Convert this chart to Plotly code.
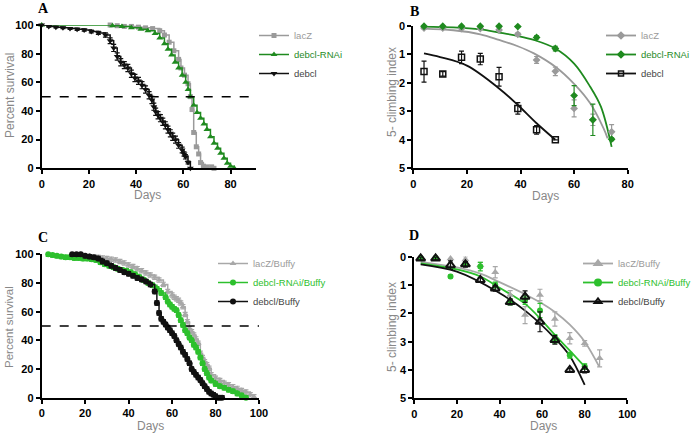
import plotly.graph_objects as go

W, H = 696, 434
def px_x(p): return p / W
def px_y(p): return 1 - p / H

GRAY = "#9a9a9a"
GREEN_A = "#1f8a1f"
GREEN_C = "#2dc02d"
BLACK = "#111111"

# ---------------- Panel A: survival ----------------
a_lacz_days = [29, 32, 35, 38, 41, 44, 47, 50, 52, 54, 56, 58, 59, 60.5, 62, 63, 63.7, 64.4, 65.5, 66.5, 67.3, 68.5, 70, 72, 73]
a_lacz_surv = [100, 99.5, 99, 99, 98.5, 98, 97.5, 96, 93, 88, 82, 76, 70, 65, 59, 50, 41, 25, 15, 10, 4, 1.5, 1, 1, 0]

a_rnai_days = [0, 30, 34, 38, 42, 45, 48, 50, 52, 53.5, 55, 56.5, 58, 59.5, 61, 62, 63, 64.4, 65.8, 67.3, 68.7, 70, 71.5, 73, 74.5, 75.8, 77.2, 78.6, 80, 81.6]
a_rnai_surv = [100, 99.5, 99, 98, 97, 96, 94, 91, 87, 83, 79, 74, 70, 65, 60, 55, 50, 44, 39, 35, 31, 27, 22, 17.5, 14, 10.5, 7, 3.5, 1.5, 0]

a_debcl_days = [0, 3, 6, 9, 12, 15, 18, 21, 24, 27, 29, 30.5, 32, 33.5, 35, 36.5, 38, 39.5, 41, 42.5, 44, 45.5, 46.7, 47.5, 48.3, 49.3, 50.3, 51.3, 52.4, 53.5, 54.5, 55.5, 56.7, 58, 59.5, 60.3, 60.9, 62, 63]
a_debcl_surv = [100, 99, 98.5, 98, 97.5, 97, 96.5, 95.5, 94.5, 93, 89, 84, 78, 74, 72, 70, 66, 63, 61, 58, 55, 51, 47.7, 43, 39.5, 37, 35, 32.5, 30, 27, 24.4, 22, 20, 16, 12.8, 10, 8, 4, 0]
a_debcl_err = [0, 0.5, 0.5, 0.5, 0.5, 0.8, 0.8, 1, 1, 1.5, 2, 2.5, 2.5, 2.5, 2.5, 2.5, 2.5, 2.5, 2.5, 2.5, 2.5, 2.5, 2.5, 2.5, 2.5, 2.5, 2.5, 2.5, 2.5, 2.5, 2.5, 2.5, 2.5, 2, 2, 1.5, 1.5, 1, 0]
median_line = 50

# ---------------- Panel B: climbing ----------------
b_days = [4, 11, 18, 25, 32, 39, 46, 53, 60, 67, 74]
b_lacz = [0.08, 0.08, 0.1, 0.1, 0.15, 0.3, 1.2, 1.6, 2.9, 3.3, 3.72]
b_lacz_err = [0.03, 0.03, 0.03, 0.03, 0.03, 0.05, 0.12, 0.15, 0.3, 0.2, 0.25]
b_rnai = [0.02, 0.02, 0.02, 0.02, 0.02, 0.03, 0.41, 0.8, 2.45, 3.3, 3.98]
b_rnai_err = [0.02, 0.02, 0.02, 0.02, 0.02, 0.02, 0.05, 0.08, 0.35, 0.55, 0.05]
b_debcl_days = [4, 11, 18, 25, 32, 39, 46, 53]
b_debcl = [1.61, 1.69, 1.11, 1.17, 1.79, 2.9, 3.65, 4.0]
b_debcl_err = [0.37, 0.08, 0.22, 0.2, 0.33, 0.2, 0.15, 0.0]

b_fit_lacz_days = [4, 15, 25, 32, 39, 45, 53, 60, 66, 71, 72.5]
b_fit_lacz = [0.1, 0.16, 0.3, 0.5, 0.72, 0.97, 1.44, 2.04, 2.72, 3.6, 3.95]
b_fit_rnai_days = [4, 15, 25, 32, 39, 45, 53, 60, 66, 70, 74]
b_fit_rnai = [0.03, 0.06, 0.13, 0.24, 0.36, 0.5, 0.8, 1.33, 2.14, 2.84, 4.25]
b_fit_debcl_days = [4, 10, 20, 32, 39, 46, 53]
b_fit_debcl = [0.97, 1.1, 1.4, 2.2, 2.78, 3.42, 4.0]

# ---------------- Panel C: survival with Buffy ----------------
c_lacz_days = [18, 22, 26, 28, 30, 32, 34, 36, 38, 40, 42, 44, 46, 48, 50, 52, 54, 56, 58, 60, 61, 62, 63, 64, 65, 66, 67, 68, 69, 70, 71, 72, 73, 74, 75, 76, 77, 78, 80, 82, 84, 86, 88, 90, 92, 94, 96, 97.7]
c_lacz_surv = [100, 99, 98, 97.5, 97, 96.5, 96, 95, 94, 92.6, 91.5, 90, 88.5, 87, 85.6, 84, 82, 79, 74, 71.6, 70, 69, 68, 66, 63.5, 58, 53, 48, 46, 43.7, 41, 38, 31, 28, 25, 23, 20.5, 16, 13.5, 12, 10, 9, 7.7, 6.5, 5, 4, 2, 0.7]

c_rnai_days = [3, 5, 7, 9, 11, 13, 15, 17, 19, 21, 23, 25, 27, 29, 31, 33, 35, 37, 39, 41, 43, 45, 47, 49, 51, 53, 55, 57, 58, 59, 60, 61, 62, 63, 64, 65, 66, 67, 68, 69, 70, 71, 72, 73, 74, 75, 76, 77, 78, 80, 82, 84, 86, 88, 90, 92, 94]
c_rnai_surv = [100, 99.5, 99, 98.5, 98, 98, 97.5, 97.5, 97, 97, 96.5, 96, 94.5, 93, 92, 91, 90, 89, 88.5, 87.5, 86, 84, 82, 80, 78.5, 76, 73, 70, 67, 65, 63.5, 62, 61, 57.7, 54, 50.7, 47, 45, 42, 40, 37, 35, 32, 28, 24, 20, 17, 14, 12, 9.5, 8, 7, 5.5, 4.5, 3, 1.5, 0]

c_debcl_days = [14, 16, 18, 20, 22, 24, 26, 28, 30, 32, 34, 36, 38, 40, 42, 44, 46, 48, 50, 52, 53, 54, 55, 56, 57, 58, 59, 60, 61, 62, 63, 64, 65, 66, 67, 68, 69, 70, 71, 72, 73, 74, 75, 76, 77, 78, 79, 80, 81, 82, 83]
c_debcl_surv = [100, 100, 100, 99, 98.5, 98, 97, 95, 93.7, 92, 90.5, 89, 87.5, 86.5, 85, 83.5, 82.5, 81, 79, 74, 66, 59, 55, 53, 51, 49, 47, 45, 43, 40, 37.5, 35, 32, 30, 27, 24, 20, 18, 16, 14, 12.3, 10, 8, 6, 4.2, 3, 2, 1, 0, 0, 0]

# ---------------- Panel D: climbing with Buffy ----------------
d_days = [3, 10, 17, 24, 31, 38, 45, 52, 59, 66, 73, 80, 87]
d_lacz = [0.05, 0.05, 0.06, 0.1, 0.3, 0.55, 1.35, 2.06, 1.35, 2.2, 2.88, 3.06, 3.59]
d_lacz_err = [0.05, 0.05, 0.15, 0.1, 0.1, 0.2, 0.15, 0.3, 0.2, 0.25, 0.2, 0.1, 0.3]
d_rnai_days = [3, 10, 17, 24, 31, 38, 45, 52, 59, 66, 73, 80]
d_rnai = [0.05, 0.05, 0.7, 0.27, 0.35, 1.0, 1.6, 1.53, 1.9, 2.9, 3.48, 3.88]
d_rnai_err = [0.03, 0.03, 0.05, 0.05, 0.15, 0.1, 0.1, 0.15, 0.25, 0.15, 0.1, 0.1]
d_debcl_days = [3, 10, 17, 24, 31, 38, 45, 52, 59, 66, 73, 80]
d_debcl = [0.06, 0.06, 0.3, 0.27, 0.82, 1.12, 1.6, 1.41, 2.3, 2.94, 4.0, 4.0]
d_debcl_err = [0.05, 0.05, 0.15, 0.1, 0.08, 0.1, 0.1, 0.2, 0.35, 0.15, 0.05, 0.1]

d_fit_lacz_days = [3, 20, 31, 40, 52.6, 60, 66, 73, 80, 86.8]
d_fit_lacz = [0.18, 0.38, 0.6, 0.9, 1.35, 1.65, 1.95, 2.4, 3.0, 3.88]
d_fit_rnai_days = [3, 20, 31, 40, 52.6, 66, 72.8, 80]
d_fit_rnai = [0.24, 0.45, 0.7, 1.1, 1.7, 2.76, 3.3, 3.88]
d_fit_debcl_days = [3, 20, 39, 52.6, 66, 72.8, 80]
d_fit_debcl = [0.27, 0.53, 1.24, 1.94, 2.88, 3.48, 4.53]

FONT = "Liberation Sans, Arial, sans-serif"

def lname(text, color):
    return f"<span style='color:{color}'>{text}</span>"

fig = go.Figure()

def err(arr, color):
    return dict(type="data", array=arr, visible=True, thickness=1.2, width=2.5, color=color)

# Panel A traces
fig.add_trace(go.Scatter(x=a_lacz_days, y=a_lacz_surv, mode="lines+markers", line=dict(color=GRAY, width=1.5, shape="hv"),
                         marker=dict(symbol="square", size=5, color=GRAY), name=lname("lacZ", GRAY),
                         xaxis="x", yaxis="y", legend="legend", cliponaxis=False))
fig.add_trace(go.Scatter(x=a_rnai_days, y=a_rnai_surv, mode="lines+markers", line=dict(color=GREEN_A, width=1.5, shape="hv"),
                         marker=dict(symbol="triangle-up", size=6, color=GREEN_A), name=lname("debcl-RNAi", GREEN_A),
                         xaxis="x", yaxis="y", legend="legend", cliponaxis=False))
fig.add_trace(go.Scatter(x=a_debcl_days, y=a_debcl_surv, mode="lines+markers", line=dict(color=BLACK, width=1.5, shape="hv"),
                         marker=dict(symbol="triangle-down", size=6, color=BLACK), error_y=err(a_debcl_err, BLACK),
                         name=lname("debcl", "#444444"), xaxis="x", yaxis="y", legend="legend", cliponaxis=False))

# Panel B traces: fits
for dx, dy, col in [(b_fit_lacz_days, b_fit_lacz, GRAY), (b_fit_rnai_days, b_fit_rnai, GREEN_A), (b_fit_debcl_days, b_fit_debcl, BLACK)]:
    fig.add_trace(go.Scatter(x=dx, y=dy, mode="lines", line=dict(color=col, width=1.8, shape="spline"),
                             showlegend=False, xaxis="x2", yaxis="y2"))
fig.add_trace(go.Scatter(x=b_days, y=b_lacz, mode="markers", marker=dict(symbol="diamond", size=6, color=GRAY),
                         error_y=err(b_lacz_err, GRAY), showlegend=False, xaxis="x2", yaxis="y2", cliponaxis=False))
fig.add_trace(go.Scatter(x=b_days, y=b_rnai, mode="markers", marker=dict(symbol="diamond", size=6, color=GREEN_A),
                         error_y=err(b_rnai_err, GREEN_A), showlegend=False, xaxis="x2", yaxis="y2", cliponaxis=False))
fig.add_trace(go.Scatter(x=b_debcl_days, y=b_debcl, mode="markers",
                         marker=dict(symbol="square-open", size=6, color=BLACK, line=dict(width=1.5)),
                         error_y=err(b_debcl_err, BLACK), showlegend=False, xaxis="x2", yaxis="y2", cliponaxis=False))
for nm, col, sym, tcol in [("lacZ", GRAY, "diamond", GRAY), ("debcl-RNAi", GREEN_A, "diamond", GREEN_A), ("debcl", BLACK, "square-open", "#444444")]:
    fig.add_trace(go.Scatter(x=[None], y=[None], mode="lines+markers", line=dict(color=col, width=1.8),
                             marker=dict(symbol=sym, size=5, color=col, line=dict(width=1.5, color=col)),
                             name=lname(nm, tcol), xaxis="x2", yaxis="y2", legend="legend2"))

# Panel C traces
fig.add_trace(go.Scatter(x=c_lacz_days, y=c_lacz_surv, mode="lines+markers", line=dict(color="#a8a8a8", width=1.5, shape="hv"),
                         marker=dict(symbol="triangle-up", size=6, color="#a8a8a8"),
                         error_y=err([1.5] * len(c_lacz_days), "#a8a8a8"),
                         name=lname("lacZ/Buffy", GRAY), xaxis="x3", yaxis="y3", legend="legend3", cliponaxis=False))
fig.add_trace(go.Scatter(x=c_rnai_days, y=c_rnai_surv, mode="lines+markers", line=dict(color=GREEN_C, width=1.5, shape="hv"),
                         marker=dict(symbol="circle", size=6, color=GREEN_C),
                         error_y=err([1.5] * len(c_rnai_days), GREEN_C),
                         name=lname("debcl-RNAi/Buffy", GREEN_C), xaxis="x3", yaxis="y3", legend="legend3", cliponaxis=False))
fig.add_trace(go.Scatter(x=c_debcl_days, y=c_debcl_surv, mode="lines+markers", line=dict(color=BLACK, width=1.5, shape="hv"),
                         marker=dict(symbol="circle", size=6, color=BLACK),
                         error_y=err([1.5] * len(c_debcl_days), BLACK),
                         name=lname("debcl/Buffy", "#444444"), xaxis="x3", yaxis="y3", legend="legend3", cliponaxis=False))

# Panel D traces
for dx, dy, col in [(d_fit_lacz_days, d_fit_lacz, "#a8a8a8"), (d_fit_rnai_days, d_fit_rnai, GREEN_C), (d_fit_debcl_days, d_fit_debcl, BLACK)]:
    fig.add_trace(go.Scatter(x=dx, y=dy, mode="lines", line=dict(color=col, width=1.8, shape="spline"),
                             showlegend=False, xaxis="x4", yaxis="y4"))
fig.add_trace(go.Scatter(x=d_days, y=d_lacz, mode="markers", marker=dict(symbol="triangle-up", size=7, color="#a8a8a8"),
                         error_y=err(d_lacz_err, "#a8a8a8"), showlegend=False, xaxis="x4", yaxis="y4", cliponaxis=False))
fig.add_trace(go.Scatter(x=d_rnai_days, y=d_rnai, mode="markers", marker=dict(symbol="circle", size=6, color=GREEN_C),
                         error_y=err(d_rnai_err, GREEN_C), showlegend=False, xaxis="x4", yaxis="y4", cliponaxis=False))
fig.add_trace(go.Scatter(x=d_debcl_days, y=d_debcl, mode="markers",
                         marker=dict(symbol="triangle-up-open", size=8, color=BLACK, line=dict(width=2)),
                         error_y=err(d_debcl_err, BLACK), showlegend=False, xaxis="x4", yaxis="y4", cliponaxis=False))
for nm, col, sym, tcol in [("lacZ/Buffy", "#a8a8a8", "triangle-up", GRAY), ("debcl-RNAi/Buffy", GREEN_C, "circle", GREEN_C), ("debcl/Buffy", BLACK, "triangle-up-open", "#444444")]:
    fig.add_trace(go.Scatter(x=[None], y=[None], mode="lines+markers", line=dict(color=col, width=1.8),
                             marker=dict(symbol=sym, size=6, color=col, line=dict(width=2, color=col)),
                             name=lname(nm, tcol), xaxis="x4", yaxis="y4", legend="legend4"))

# Median reference lines
fig.add_shape(type="line", xref="x", yref="y", x0=0, x1=90.8, y0=median_line, y1=median_line,
              line=dict(color="black", width=1.5, dash="dash"))
fig.add_shape(type="line", xref="x3", yref="y3", x0=0, x1=100, y0=median_line, y1=median_line,
              line=dict(color="black", width=1.5, dash="dash"))

axis_common = dict(showline=True, linecolor="black", linewidth=2, ticks="outside", ticklen=4, tickwidth=1.5,
                   tickcolor="black", showgrid=False, zeroline=False, automargin=False,
                   tickfont=dict(family=FONT, size=11, color="black", weight="bold"))

fig.update_layout(
    template="none",
    width=W, height=H, margin=dict(l=0, r=0, t=0, b=0, pad=0, autoexpand=False),
    paper_bgcolor="white", plot_bgcolor="white",
    xaxis=dict(domain=[px_x(41.7), px_x(256)], range=[0, 90.8], tickvals=[0, 20, 40, 60, 80], anchor="y", **axis_common),
    yaxis=dict(domain=[px_y(168.3), px_y(25)], range=[0, 100], tickvals=[0, 20, 40, 60, 80, 100], anchor="x", **axis_common),
    xaxis2=dict(domain=[px_x(413.3), px_x(627.7)], range=[0, 80], tickvals=[0, 20, 40, 60, 80], anchor="y2", **axis_common),
    yaxis2=dict(domain=[px_y(168.3), px_y(25.7)], range=[5, 0], tickvals=[0, 1, 2, 3, 4, 5], anchor="x2", **axis_common),
    xaxis3=dict(domain=[px_x(41.7), px_x(259)], range=[0, 100], tickvals=[0, 20, 40, 60, 80, 100], anchor="y3", **axis_common),
    yaxis3=dict(domain=[px_y(397.7), px_y(254.3)], range=[0, 100], tickvals=[0, 20, 40, 60, 80, 100], anchor="x3", **axis_common),
    xaxis4=dict(domain=[px_x(414.3), px_x(627.3)], range=[0, 100], tickvals=[0, 20, 40, 60, 80, 100], anchor="y4", **axis_common),
    yaxis4=dict(domain=[px_y(398.3), px_y(256.7)], range=[5, 0], tickvals=[0, 1, 2, 3, 4, 5], anchor="x4", **axis_common),
    showlegend=True,
)

leg_common = dict(xanchor="left", yanchor="top", bgcolor="rgba(0,0,0,0)", font=dict(family=FONT, size=9.5),
                  tracegroupgap=0, itemclick=False, itemdoubleclick=False, borderwidth=0)
fig.update_layout(
    legend=dict(x=px_x(254), y=px_y(21), **leg_common),
    legend2=dict(x=px_x(601), y=px_y(21), **leg_common),
    legend3=dict(x=px_x(213), y=px_y(249), **leg_common),
    legend4=dict(x=px_x(578), y=px_y(249), **leg_common),
)

def ann(text, x, y, size=12, color="#888888", angle=0, family=FONT):
    fig.add_annotation(text=text, x=px_x(x), y=px_y(y), xref="paper", yref="paper", showarrow=False,
                       textangle=angle, font=dict(family=family, size=size, color=color), xanchor="center", yanchor="middle")

ann("Percent survival", 10, 96, size=12, angle=-90)
ann("Days", 147, 195)
ann("5- climbing index", 392, 92, size=12, angle=-90)
ann("Days", 545, 196)
ann("Percent survival", 9, 327, size=11.5, angle=-90)
ann("Days", 150, 426)
ann("5- climbing index", 392, 327, size=12, angle=-90)
ann("Days", 543, 426)

for letter, x, y in [("A", 43, 8), ("B", 414, 12), ("C", 43, 238), ("D", 414, 235)]:
    ann(f"<b>{letter}</b>", x, y, size=14, color="black", family="Liberation Serif, Times New Roman, serif")

fig.write_html("out.html", config={"displayModeBar": False},
               post_script="document.body.style.margin='0px';document.body.style.overflow='hidden';")
